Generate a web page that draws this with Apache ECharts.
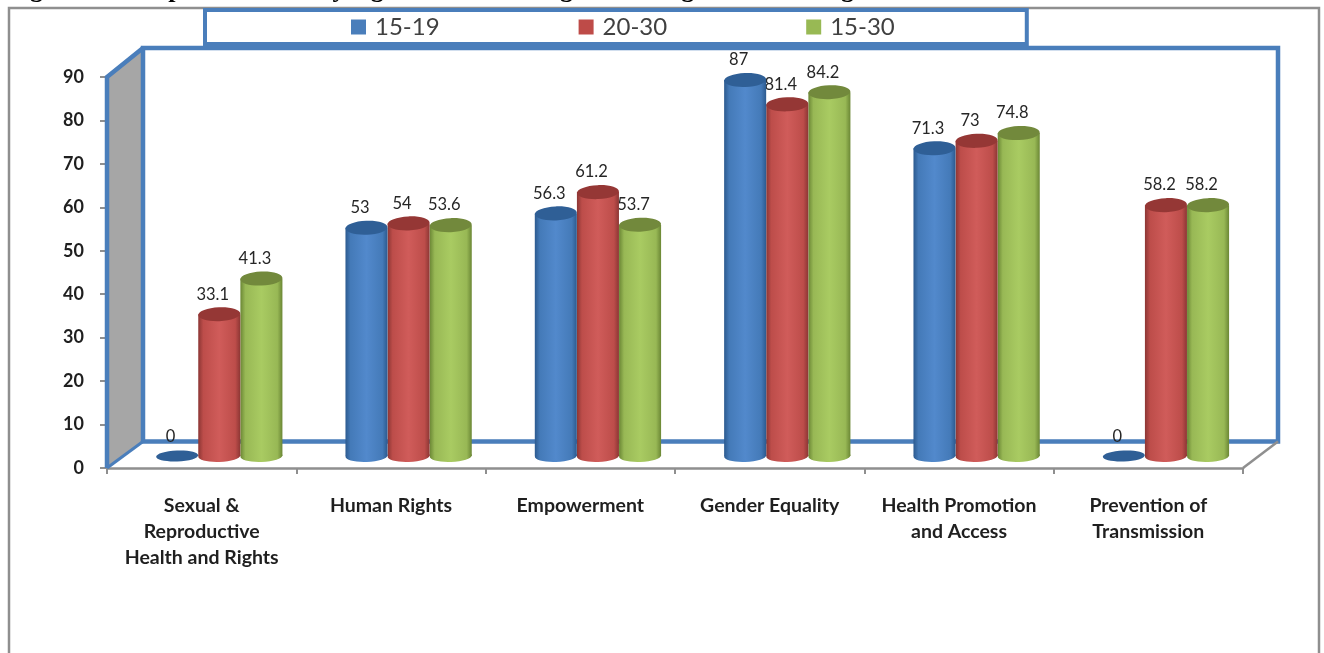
<!DOCTYPE html>
<html>
<head>
<meta charset="utf-8">
<title>Composite Scores by Age Cohorts</title>
<script src="https://cdn.jsdelivr.net/npm/echarts@6/dist/echarts.min.js"></script>
<style>
  html, body { margin: 0; padding: 0; background: #fff; overflow: hidden; }
  #chart { width: 1324px; height: 653px; }
</style>
</head>
<body>
<div id="chart"></div>
<script>
// Composite scores per domain, split by age cohort
const categories = [
  'Sexual &\nReproductive\nHealth and Rights',
  'Human Rights',
  'Empowerment',
  'Gender Equality',
  'Health Promotion\nand Access',
  'Prevention of\nTransmission'
];
const cohort1519 = [0, 53, 56.3, 87, 71.3, 0];
const cohort2030 = [33.1, 54, 61.2, 81.4, 73, 58.2];
const cohort1530 = [41.3, 53.6, 53.7, 84.2, 74.8, 58.2];

const headingText = 'Figure 4: Composite Scores by Age Cohorts among PLHIV aged 15-30 in Uganda';
const textFont = 'Lato';
const frameBlue = '#4a7ebb';
const floorGrey = '#8f8f8f';

// Pseudo-3D depth of the box behind the plotting plane
const depthX = 36;
const depthTop = 29;
const depthBottom = 26.5;

function hGradient(edge, mid, light) {
  return new echarts.graphic.LinearGradient(0, 0, 1, 0, [
    { offset: 0, color: edge },
    { offset: 0.12, color: mid },
    { offset: 0.5, color: light },
    { offset: 0.88, color: mid },
    { offset: 1, color: edge }
  ]);
}

// Draws one cylinder; a zero value leaves only the flat base disc
function cylinderRenderer(slot, palette) {
  return function (params, api) {
    const idx = api.value(0);
    const val = api.value(1);
    const band = api.size([1, 0])[0];
    const halfW = band * 0.111;
    const cx = api.coord([idx, 0])[0] + band * 0.093 + slot * band * 0.2225;
    const baseY = api.coord([idx, 0])[1] - 12;
    const topY = api.coord([idx, val])[1] - 10;
    const tilt = 0.04;
    const children = [];
    const disc = (cy, ry, fill) => ({
      type: 'ellipse',
      shape: { cx: cx, cy: cy, rx: halfW, ry: ry },
      originX: cx,
      originY: cy,
      rotation: tilt,
      style: { fill: fill }
    });
    if (val > 0) {
      const body = hGradient(palette.edge, palette.mid, palette.light);
      children.push(disc(baseY, 6, body));
      children.push({
        type: 'rect',
        shape: { x: cx - halfW, y: topY, width: halfW * 2, height: baseY - topY },
        style: { fill: body }
      });
      children.push(disc(topY, 7, palette.cap));
    } else {
      children.push(disc(baseY, 5.5, palette.cap));
    }
    const labelAnchor = val > 0 ? topY - 20 : baseY - 19;
    children.push({
      type: 'text',
      x: cx - 6.5,
      y: labelAnchor,
      style: {
        text: String(val),
        fontFamily: textFont,
        fontSize: 16.5,
        fill: '#262626',
        align: 'center',
        verticalAlign: 'middle'
      }
    });
    return { type: 'group', children: children };
  };
}

// Back wall, side wall and floor edges, all measured from the grid rectangle
function renderBox(params) {
  const cs = params.coordSys;
  const x0 = cs.x;
  const x1 = cs.x + cs.width;
  const yT = cs.y;
  const yB = cs.y + cs.height;
  const backX = x0 + depthX;
  const backTop = yT - depthTop;
  const backBottom = yB - depthBottom;
  const edge = (pts, color, w) => ({
    type: 'polyline',
    shape: { points: pts },
    style: { stroke: color, lineWidth: w, fill: null, lineJoin: 'miter' }
  });
  return {
    type: 'group',
    children: [
      {
        type: 'polygon',
        shape: { points: [[x0, yB], [x0, yT], [backX, backTop], [backX, backBottom]] },
        style: { fill: '#a6a6a6' }
      },
      {
        type: 'rect',
        shape: { x: backX, y: backTop, width: cs.width - 1, height: backBottom - backTop },
        style: { fill: 'none', stroke: frameBlue, lineWidth: 4.5 }
      },
      edge([[x0, yB], [x0, yT], [backX, backTop]], frameBlue, 4.5),
      edge([[x0, yB], [backX, backBottom]], frameBlue, 3),
      edge([[x1, yB], [x1 + depthX - 1, backBottom]], floorGrey, 2.5)
    ]
  };
}

function cohortSeries(name, values, slot, z, palette) {
  return {
    name: name,
    type: 'custom',
    z: z,
    silent: true,
    itemStyle: { color: palette.legend },
    encode: { x: 0, y: 1 },
    data: values.map((v, i) => [i, v]),
    renderItem: cylinderRenderer(slot, palette)
  };
}

const chart = echarts.init(document.getElementById('chart'), null, { renderer: 'canvas' });

chart.setOption({
  animation: false,
  backgroundColor: '#ffffff',
  title: {
    text: headingText,
    left: 7,
    top: -23,
    padding: 0,
    textStyle: {
      fontFamily: 'Liberation Serif',
      fontWeight: 'bold',
      fontSize: 26,
      color: '#000000'
    }
  },
  graphic: [
    {
      type: 'rect',
      z: 0,
      shape: { x: 9, y: 8, width: 1310, height: 800 },
      style: { fill: 'none', stroke: floorGrey, lineWidth: 2.5 }
    }
  ],
  legend: {
    data: ['15-19', '20-30', '15-30'],
    left: 205,
    top: 10,
    padding: [5, 132, 5, 146],
    itemGap: 139,
    itemWidth: 15,
    itemHeight: 15,
    icon: 'rect',
    borderColor: frameBlue,
    borderWidth: 4,
    backgroundColor: '#ffffff',
    selectedMode: false,
    textStyle: {
      fontFamily: textFont,
      fontSize: 24,
      color: '#404040',
      padding: [0, 0, 0, 4]
    }
  },
  grid: { left: 107, right: 81, top: 77, bottom: 185, containLabel: false },
  xAxis: {
    type: 'category',
    data: categories,
    axisLine: { show: true, lineStyle: { color: floorGrey, width: 2.5 } },
    axisTick: { show: true, length: 6, lineStyle: { color: floorGrey, width: 2 } },
    axisLabel: {
      interval: 0,
      margin: 25,
      fontFamily: textFont,
      fontSize: 19.5,
      fontWeight: 'bold',
      lineHeight: 26,
      color: '#1f1f1f'
    }
  },
  yAxis: {
    type: 'value',
    min: 0,
    max: 90,
    interval: 10,
    splitLine: { show: false },
    axisLine: { show: false },
    axisTick: { show: true, length: 7, lineStyle: { color: floorGrey, width: 2 } },
    axisLabel: {
      margin: 23,
      fontFamily: textFont,
      fontSize: 18,
      fontWeight: 'bold',
      color: '#1f1f1f'
    }
  },
  series: [
    {
      type: 'custom',
      z: 1,
      silent: true,
      data: [[0, 0]],
      encode: { x: 0, y: 1 },
      renderItem: renderBox
    },
    cohortSeries('15-19', cohort1519, -1, 5, {
      legend: '#4a7ebb', edge: '#2c5a8f', mid: '#447ab8', light: '#5289cc', cap: '#2f5f96'
    }),
    cohortSeries('20-30', cohort2030, 0, 4, {
      legend: '#be4b48', edge: '#8c3634', mid: '#bd4d4a', light: '#d05c5a', cap: '#953735'
    }),
    cohortSeries('15-30', cohort1530, 1, 3, {
      legend: '#98b954', edge: '#6b8735', mid: '#98b855', light: '#a9cb62', cap: '#72893c'
    })
  ]
});
</script>
</body>
</html>
